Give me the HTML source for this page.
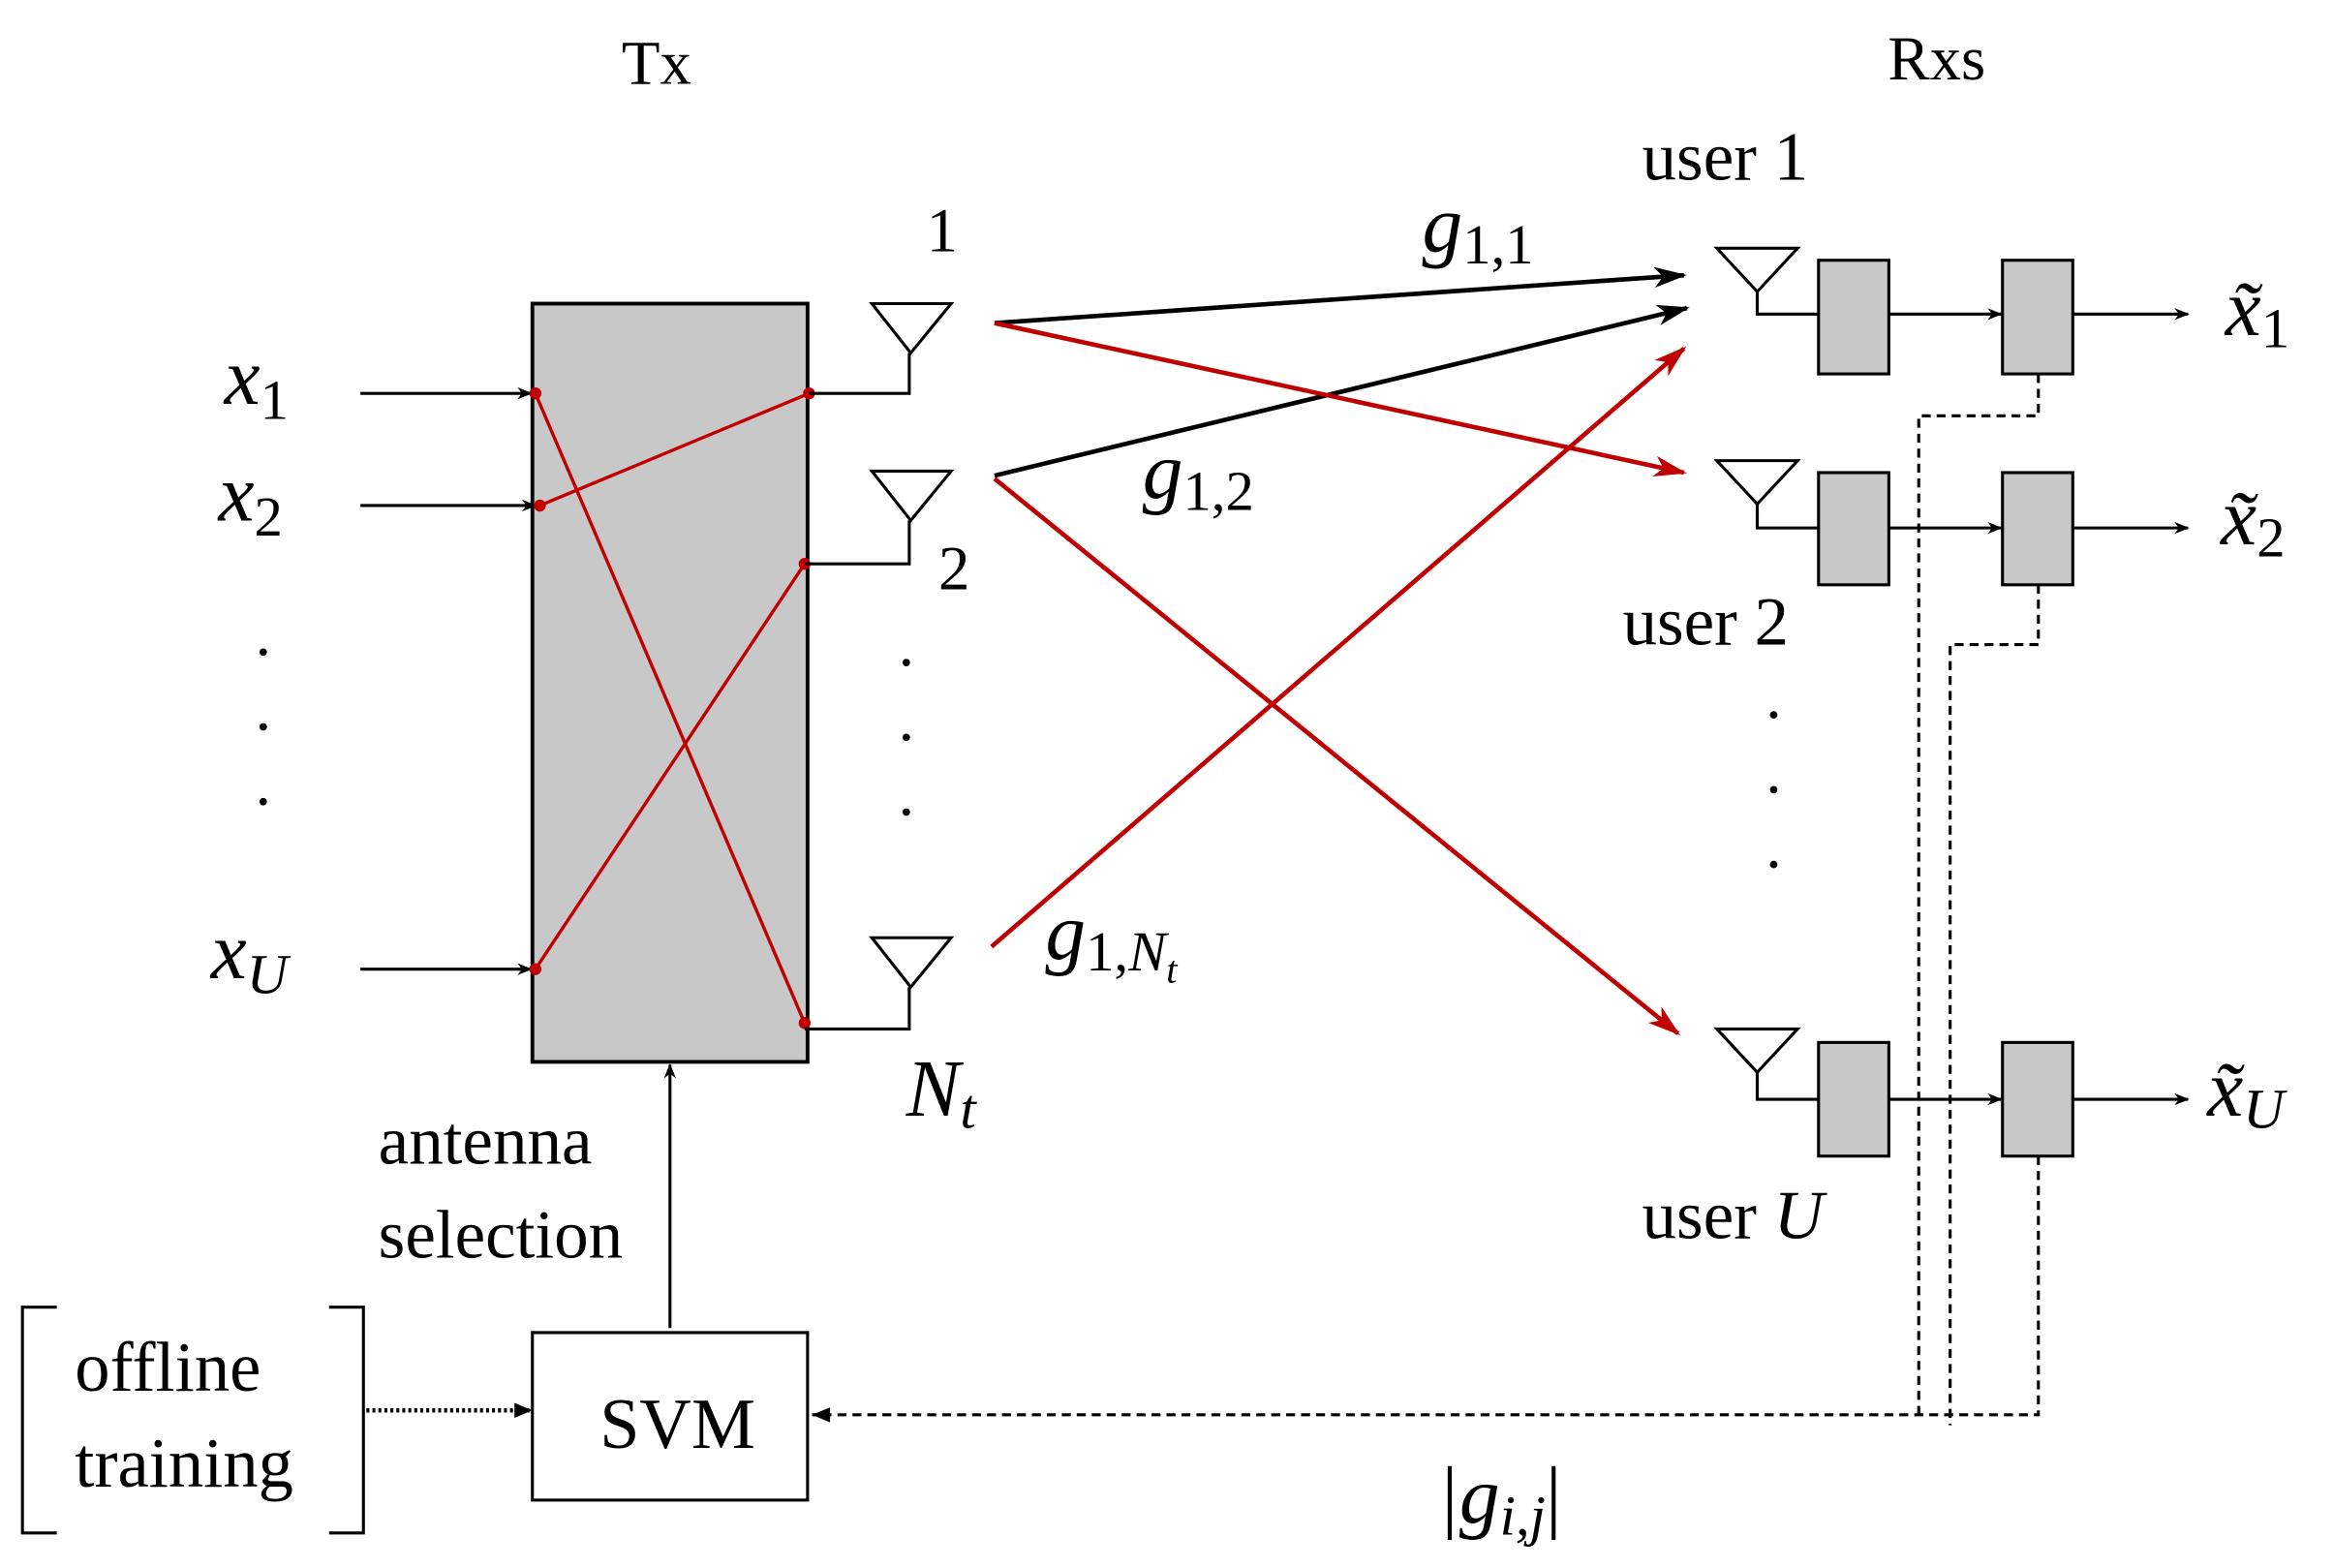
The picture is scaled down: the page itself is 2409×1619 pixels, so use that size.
<!DOCTYPE html>
<html><head><meta charset="utf-8"><style>
html,body{margin:0;padding:0;background:#fff;}
svg{display:block;}
text{font-family:"Liberation Serif",serif;fill:#000;}
.m{font-style:italic;}
</style></head><body>
<svg width="2409" height="1619" viewBox="0 0 1560 1048.4" xmlns="http://www.w3.org/2000/svg">
<defs>
<marker id="ab" markerWidth="10" markerHeight="8" refX="9" refY="4" orient="auto" markerUnits="userSpaceOnUse"><path d="M0,0 L10,4 L0,8 L3,4z" fill="#000"/></marker>
<marker id="ab2" markerWidth="22" markerHeight="14" refX="20" refY="7" orient="auto" markerUnits="userSpaceOnUse"><path d="M0,0 L22,7 L0,14 L6,7z" fill="#000"/></marker>
<marker id="ar" markerWidth="22" markerHeight="14" refX="20" refY="7" orient="auto" markerUnits="userSpaceOnUse"><path d="M0,0 L22,7 L0,14 L6,7z" fill="#c00000"/></marker>
</defs>
<g transform="translate(-2,-2)">
<text x="441" y="58" font-size="42" text-anchor="middle">Tx</text>
<text x="1297" y="55" font-size="42" text-anchor="middle">Rxs</text>

<rect x="358" y="205" width="184" height="507" fill="#c8c8c8" stroke="#000" stroke-width="2.5"/>
<g stroke="#000" stroke-width="2" fill="none">
<line x1="243" y1="265" x2="357" y2="265" marker-end="url(#ab)"/>
<line x1="243" y1="340" x2="360" y2="340" marker-end="url(#ab)"/>
<line x1="243" y1="650" x2="357" y2="650" marker-end="url(#ab)"/>
</g>
<text x="152" y="272" font-size="54" class="m">x<tspan font-size="38" dy="10" font-style="normal">1</tspan></text>
<text x="148" y="350" font-size="54" class="m">x<tspan font-size="38" dy="10" font-style="normal">2</tspan></text>
<text x="143" y="656" font-size="54" class="m">x<tspan font-size="38" dy="10">U</tspan></text>
<g fill="#000"><circle cx="178" cy="438" r="2.5"/><circle cx="178" cy="488" r="2.5"/><circle cx="178" cy="538" r="2.5"/>
<circle cx="608" cy="445" r="2.5"/><circle cx="608" cy="495" r="2.5"/><circle cx="608" cy="545" r="2.5"/>
<circle cx="1188" cy="480" r="2.5"/><circle cx="1188" cy="530" r="2.5"/><circle cx="1188" cy="580" r="2.5"/></g>

<g stroke="#c00000" stroke-width="2.2">
<line x1="360" y1="265" x2="540" y2="686"/>
<line x1="363" y1="340" x2="543" y2="265"/>
<line x1="360" y1="650" x2="540" y2="379"/>
</g>
<g fill="#c00000"><circle cx="360" cy="265" r="4"/><circle cx="363" cy="340" r="4"/><circle cx="360" cy="650" r="4"/><circle cx="543" cy="265" r="4"/><circle cx="540" cy="379" r="4"/><circle cx="540" cy="686" r="4"/></g>

<g stroke="#000" stroke-width="2" fill="none">
<polyline points="543,265 610,265 610,238"/><polygon points="585,205 638,205 611,238"/>
<polyline points="540,379 610,379 610,350"/><polygon points="585,317 638,317 611,350"/>
<polyline points="540,690 610,690 610,662"/><polygon points="585,629 638,629 611,662"/>
</g>
<text x="632" y="170" font-size="42" text-anchor="middle">1</text>
<text x="640" y="396" font-size="42" text-anchor="middle">2</text>
<text x="608" y="748" font-size="54" class="m">N<tspan font-size="38" dy="8">t</tspan></text>

<g stroke-width="3" fill="none">
<line x1="667" y1="218" x2="1128" y2="186" stroke="#000" marker-end="url(#ab2)"/>
<line x1="667" y1="320" x2="1130" y2="208" stroke="#000" marker-end="url(#ab2)"/>
<line x1="667" y1="218" x2="1128" y2="318" stroke="#c00000" marker-end="url(#ar)"/>
<line x1="667" y1="322" x2="1124" y2="693" stroke="#c00000" marker-end="url(#ar)"/>
<line x1="665" y1="635" x2="1128" y2="235" stroke="#c00000" marker-end="url(#ar)"/>
</g>
<text x="953" y="170" font-size="54" class="m">g<tspan font-size="38" dy="8" font-style="normal">1,1</tspan></text>
<text x="766" y="335" font-size="54" class="m">g<tspan font-size="38" dy="8" font-style="normal">1,2</tspan></text>
<text x="701" y="643" font-size="54" class="m">g<tspan font-size="38" dy="8" font-style="normal">1,</tspan><tspan font-size="38">N</tspan><tspan font-size="26" dy="8">t</tspan></text>

<g stroke="#000" stroke-width="2" fill="none">
<polygon points="1150,168 1204,168 1177,197"/><polyline points="1177,197 1177,212 1218,212"/>
<polygon points="1150,310 1204,310 1177,339"/><polyline points="1177,339 1177,355 1218,355"/>
<polygon points="1150,690 1204,690 1177,719"/><polyline points="1177,719 1177,737 1218,737"/>
</g>
<g fill="#c8c8c8" stroke="#000" stroke-width="2">
<rect x="1218" y="176" width="47" height="76"/><rect x="1341" y="176" width="47" height="76"/>
<rect x="1218" y="318" width="47" height="75"/><rect x="1341" y="318" width="47" height="75"/>
<rect x="1218" y="699" width="47" height="76"/><rect x="1341" y="699" width="47" height="76"/>
</g>
<g stroke="#000" stroke-width="2" fill="none">
<line x1="1265" y1="212" x2="1340" y2="212" marker-end="url(#ab)"/>
<line x1="1388" y1="212" x2="1465" y2="212" marker-end="url(#ab)"/>
<line x1="1265" y1="355" x2="1340" y2="355" marker-end="url(#ab)"/>
<line x1="1388" y1="355" x2="1465" y2="355" marker-end="url(#ab)"/>
<line x1="1265" y1="737" x2="1340" y2="737" marker-end="url(#ab)"/>
<line x1="1388" y1="737" x2="1465" y2="737" marker-end="url(#ab)"/>
</g>
<text x="1490" y="226" font-size="54" class="m">x̃<tspan font-size="38" dy="8" font-style="normal">1</tspan></text>
<text x="1487" y="366" font-size="54" class="m">x̃<tspan font-size="38" dy="8" font-style="normal">2</tspan></text>
<text x="1478" y="748" font-size="54" class="m">x̃<tspan font-size="38" dy="8">U</tspan></text>
<text x="1100" y="122" font-size="46">user 1</text>
<text x="1087" y="433" font-size="46">user 2</text>
<text x="1100" y="830" font-size="46">user <tspan class="m">U</tspan></text>

<g stroke="#000" stroke-width="2" fill="none" stroke-dasharray="6,4">
<polyline points="1365,252 1365,280 1285,280 1285,948"/>
<polyline points="1365,393 1365,433 1306,433 1306,955"/>
<polyline points="1365,775 1365,948 545,948"/>
</g>
<path d="M545,948 L557,943 L557,953z" fill="#000"/>
<text x="963" y="1020" font-size="54" class="m">|g<tspan font-size="38" dy="8">i,j</tspan><tspan dy="-8" font-style="normal">|</tspan></text>

<rect x="358" y="893" width="184" height="112" fill="#fff" stroke="#000" stroke-width="2"/>
<text x="455" y="970" font-size="48" text-anchor="middle">SVM</text>
<line x1="450" y1="890" x2="450" y2="714" stroke="#000" stroke-width="2" marker-end="url(#ab)"/>
<text x="255" y="780" font-size="46">antenna</text>
<text x="255" y="843" font-size="46">selection</text>

<g stroke="#000" stroke-width="2" fill="none">
<polyline points="40,876 17,876 17,1027 40,1027"/>
<polyline points="222,876 245,876 245,1027 222,1027"/>
<line x1="247" y1="945" x2="356" y2="945" stroke-dasharray="2,2" stroke-width="3"/>
</g>
<path d="M358,945 L346,940 L346,950z" fill="#000"/>
<text x="52" y="932" font-size="47">offline</text>
<text x="52" y="996" font-size="47">training</text>
</g>
</svg>
</body></html>
